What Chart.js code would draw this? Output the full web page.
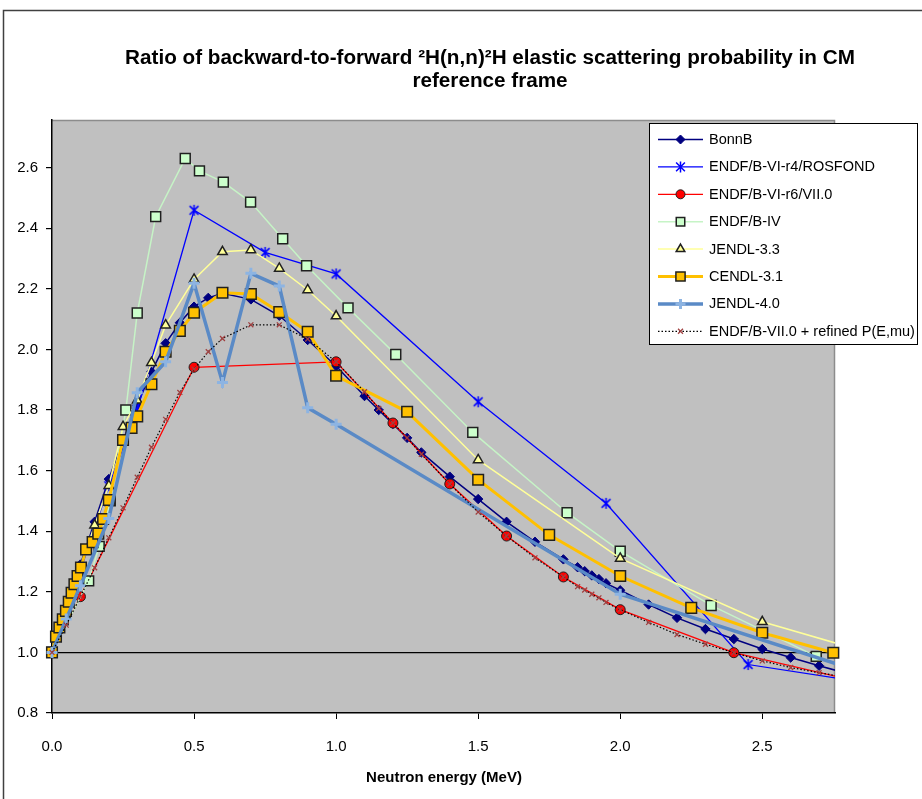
<!DOCTYPE html>
<html><head><meta charset="utf-8">
<script src="https://cdn.jsdelivr.net/npm/chart.js@4.4.1/dist/chart.umd.min.js"></script>
<style>
html,body{margin:0;padding:0;background:#fff;}
#wrap{position:relative;width:922px;height:799px;overflow:hidden;}
#c{position:absolute;left:0;top:0;}
#title{position:absolute;left:90px;width:800px;top:45px;text-align:center;font:bold 20.7px "Liberation Sans",Arial,sans-serif;line-height:23px;color:#000;}
#xtitle{position:absolute;left:244px;width:400px;top:768px;text-align:center;font:bold 15px "Liberation Sans",Arial,sans-serif;color:#000;}
</style></head>
<body><div id="wrap"><canvas id="c" width="922" height="799"></canvas>
<div id="title">Ratio of backward-to-forward ²H(n,n)²H elastic scattering probability in CM<br>reference frame</div>
<div id="xtitle">Neutron energy (MeV)</div></div>
<script>
// ---- data ----
const seriesNames = ['BonnB','ENDF/B-VI-r4/ROSFOND','ENDF/B-VI-r6/VII.0','ENDF/B-IV','JENDL-3.3','CENDL-3.1','JENDL-4.0','ENDF/B-VII.0 + refined P(E,mu)'];
const xTicks = [0.0, 0.5, 1.0, 1.5, 2.0, 2.5];
const yTicks = [0.8, 1.0, 1.2, 1.4, 1.6, 1.8, 2.0, 2.2, 2.4, 2.6];

const bonnX = [0,0.05,0.1,0.15,0.2,0.25,0.3,0.35,0.4,0.45,0.5,0.55,0.6,0.7,0.8,0.9,1.0,1.1,1.15,1.2,1.25,1.3,1.4,1.5,1.6,1.7,1.8,1.85,1.875,1.9,1.925,1.95,2.0,2.1,2.2,2.3,2.4,2.5,2.6,2.7,2.8];
const bonnY = [1.0,1.14,1.29,1.431,1.572,1.70,1.816,1.926,2.02,2.088,2.141,2.17,2.185,2.165,2.111,2.031,1.945,1.846,1.80,1.754,1.708,1.66,1.58,1.506,1.431,1.365,1.307,1.281,1.268,1.254,1.242,1.228,1.205,1.158,1.114,1.077,1.044,1.011,0.983,0.956,0.930];

const r4X = [0,0.1,0.2,0.3,0.5,0.75,1.0,1.5,1.95,2.45,3.0];
const r4Y = [1.0,1.27,1.55,1.80,2.459,2.32,2.249,1.827,1.492,0.96,0.881];

const r6X = [0,0.1,0.5,1.0,1.2,1.4,1.6,1.8,2.0,2.4,3.0];
const r6Y = [1.0,1.184,1.941,1.959,1.757,1.556,1.384,1.249,1.141,0.999,0.869];

const b4X = [0,0.129,0.166,0.205,0.26,0.30,0.365,0.469,0.519,0.603,0.699,0.812,0.896,1.042,1.21,1.481,1.813,2.0,2.32,2.69];
const b4Y = [1.0,1.236,1.35,1.50,1.80,2.12,2.438,2.63,2.589,2.552,2.486,2.365,2.276,2.137,1.983,1.726,1.461,1.334,1.155,0.987];

const j33X = [0,0.05,0.1,0.15,0.2,0.25,0.3,0.35,0.4,0.5,0.6,0.7,0.8,0.9,1.0,1.5,2.0,2.5,3.0];
const j33Y = [1.0,1.13,1.28,1.42,1.55,1.745,1.832,1.956,2.08,2.231,2.322,2.328,2.267,2.196,2.11,1.635,1.31,1.101,0.965];

const cenX = [0,0.014,0.026,0.038,0.049,0.059,0.069,0.079,0.09,0.102,0.12,0.143,0.163,0.18,0.2,0.25,0.28,0.3,0.35,0.4,0.45,0.5,0.6,0.7,0.8,0.9,1.0,1.25,1.5,1.75,2.0,2.25,2.5,2.75];
const cenY = [1.0,1.052,1.082,1.109,1.137,1.167,1.197,1.225,1.252,1.28,1.34,1.364,1.392,1.44,1.503,1.701,1.741,1.779,1.885,1.992,2.061,2.121,2.187,2.183,2.123,2.058,1.913,1.794,1.570,1.388,1.252,1.147,1.065,0.999];

const j40X = [0,0.05,0.1,0.2,0.3,0.4,0.5,0.6,0.7,0.8,0.9,1.0,2.0,3.0];
const j40Y = [1.0,1.11,1.22,1.442,1.857,1.959,2.218,1.891,2.251,2.209,1.807,1.753,1.192,0.89];

const refX = [0,0.05,0.1,0.15,0.2,0.25,0.3,0.35,0.4,0.45,0.5,0.55,0.6,0.7,0.8,0.9,1.0,1.1,1.15,1.2,1.25,1.3,1.4,1.5,1.6,1.7,1.8,1.85,1.875,1.9,1.925,1.95,2.0,2.1,2.2,2.3,2.4,2.5,2.6,2.7,2.8];
const refY = [1.0,1.09,1.184,1.279,1.378,1.477,1.578,1.677,1.769,1.858,1.935,1.992,2.036,2.081,2.081,2.034,1.959,1.86,1.805,1.757,1.708,1.654,1.556,1.463,1.384,1.312,1.249,1.217,1.206,1.192,1.18,1.165,1.141,1.099,1.059,1.027,0.999,0.972,0.950,0.933,0.917];

// ---- build ----
function pts(xs, ys){ return xs.map((x,i)=>({x:x, y:ys[i]})); }
const FONT = '"Liberation Sans", Arial, sans-serif';
const clipIn = {left:8, top:8, right:8, bottom:8};
const clipOut = {left:8, top:8, right:0, bottom:8};

function drawMarker(ctx, style, x, y, r, fill, stroke, bw){
  ctx.save(); ctx.fillStyle=fill; ctx.strokeStyle=stroke; ctx.lineWidth=bw; ctx.setLineDash([]); ctx.beginPath();
  const d = r*Math.SQRT1_2;
  switch(style){
    case 'circle': ctx.arc(x,y,r,0,Math.PI*2); ctx.fill(); ctx.stroke(); break;
    case 'rect': ctx.rect(x-d,y-d,2*d,2*d); ctx.fill(); ctx.stroke(); break;
    case 'rectRot': ctx.moveTo(x-r,y); ctx.lineTo(x,y-r); ctx.lineTo(x+r,y); ctx.lineTo(x,y+r); ctx.closePath(); ctx.fill(); ctx.stroke(); break;
    case 'triangle': for(let k=0;k<3;k++){const a=k*2*Math.PI/3; const px=x+Math.sin(a)*r, py=y-Math.cos(a)*r; if(k) ctx.lineTo(px,py); else ctx.moveTo(px,py);} ctx.closePath(); ctx.fill(); ctx.stroke(); break;
    case 'cross': ctx.moveTo(x,y-r); ctx.lineTo(x,y+r); ctx.moveTo(x-r,y); ctx.lineTo(x+r,y); ctx.stroke(); break;
    case 'crossRot': ctx.moveTo(x-d,y-d); ctx.lineTo(x+d,y+d); ctx.moveTo(x-d,y+d); ctx.lineTo(x+d,y-d); ctx.stroke(); break;
    case 'asterisk': {const e=r*0.8; ctx.moveTo(x,y-r); ctx.lineTo(x,y+r); ctx.moveTo(x-e,y-e); ctx.lineTo(x+e,y+e); ctx.moveTo(x-e,y+e); ctx.lineTo(x+e,y-e); ctx.stroke(); break;}
  }
  ctx.restore();
}

// asterisk marker (X with vertical bar) as an image point style
const astCanvas = document.createElement('canvas');
astCanvas.width = 13; astCanvas.height = 13;
drawMarker(astCanvas.getContext('2d'), 'asterisk', 6.5, 6.5, 5.5, '#0000FF', '#0000FF', 1.5);

const datasets = [
 {label:seriesNames[0], data:pts(bonnX,bonnY), borderColor:'#000080', borderWidth:1.5, pointStyle:'rectRot', pointRadius:4.7, pointBackgroundColor:'#000080', pointBorderColor:'#000080', pointBorderWidth:1, legR:4.5, clip:clipOut},
 {label:seriesNames[1], data:pts(r4X,r4Y), borderColor:'#0000FF', borderWidth:1.3, pointStyle:astCanvas, legStyle:'asterisk', pointRadius:5.5, pointBackgroundColor:'#0000FF', pointBorderColor:'#0000FF', pointBorderWidth:1.5, legR:5.5, clip:clipOut},
 {label:seriesNames[2], data:pts(r6X,r6Y), borderColor:'#FF0000', borderWidth:1.3, pointStyle:'circle', pointRadius:5, pointBackgroundColor:'#FF0000', pointBorderColor:'#202020', pointBorderWidth:1, legR:4.5, clip:clipOut},
 {label:seriesNames[3], data:pts(b4X,b4Y), borderColor:'#C6F4C6', borderWidth:1.5, pointStyle:'rect', pointRadius:7, pointBackgroundColor:'#CCFFCC', pointBorderColor:'#202020', pointBorderWidth:1.5, legR:6, clip:clipIn},
 {label:seriesNames[4], data:pts(j33X,j33Y), borderColor:'#FFFF99', borderWidth:1.5, pointStyle:'triangle', pointRadius:5.5, pointBackgroundColor:'#FFFF99', pointBorderColor:'#202020', pointBorderWidth:1.5, legR:5, clip:clipOut},
 {label:seriesNames[5], data:pts(cenX,cenY), borderColor:'#FFC000', borderWidth:3, pointStyle:'rect', pointRadius:7.5, pointBackgroundColor:'#FFC000', pointBorderColor:'#202020', pointBorderWidth:1.5, legR:6.5, clip:clipIn},
 {label:seriesNames[6], data:pts(j40X,j40Y), borderColor:'#5A8AC6', borderWidth:3.5, pointStyle:'cross', pointRadius:5.5, pointBackgroundColor:'#8DB4E2', pointBorderColor:'#8DB4E2', pointBorderWidth:3, legR:5, clip:clipOut},
 {label:seriesNames[7], data:pts(refX,refY), borderColor:'#000000', borderWidth:1.2, borderDash:[1.5,2], pointStyle:'crossRot', pointRadius:3.5, pointBackgroundColor:'#A04040', pointBorderColor:'#A04040', pointBorderWidth:1.3, legR:3.5, clip:clipOut}
];
const N = datasets.length;
datasets.forEach((d,i)=>{ d.order = N-1-i; d.tension = 0; d.fill = false; d.pointHoverRadius = d.pointRadius; });

const bgPlugin = {id:'bg', beforeDraw(chart){
  const ctx=chart.ctx, a=chart.chartArea; ctx.save();
  ctx.strokeStyle='#404040'; ctx.lineWidth=1.5; ctx.beginPath(); ctx.moveTo(3.5,799); ctx.lineTo(3.5,10.5); ctx.lineTo(922,10.5); ctx.stroke();
  ctx.fillStyle='#C0C0C0'; ctx.fillRect(a.left,a.top,a.right-a.left,a.bottom-a.top);
  ctx.strokeStyle='#8C8C8C'; ctx.lineWidth=1.5; ctx.beginPath(); ctx.moveTo(a.left,a.top+0.5); ctx.lineTo(a.right-0.5,a.top+0.5); ctx.lineTo(a.right-0.5,a.bottom); ctx.stroke();
  ctx.restore();
}};

const legendPlugin = {id:'leg', afterDraw(chart){
  const ctx=chart.ctx; ctx.save();
  const bx=649.5, by=123.5, bw=268, bh=221;
  ctx.fillStyle='#fff'; ctx.fillRect(bx,by,bw,bh);
  ctx.strokeStyle='#000'; ctx.lineWidth=1; ctx.strokeRect(bx,by,bw,bh);
  ctx.font='14.5px '+FONT; ctx.textBaseline='middle'; ctx.textAlign='left';
  chart.data.datasets.forEach((ds,i)=>{
    const y = 139.5 + i*27.4;
    ctx.save(); ctx.strokeStyle=ds.borderColor; ctx.lineWidth=ds.borderWidth; ctx.setLineDash(ds.borderDash||[]);
    ctx.beginPath(); ctx.moveTo(658,y); ctx.lineTo(703,y); ctx.stroke(); ctx.restore();
    drawMarker(ctx, ds.legStyle||ds.pointStyle, 680.5, y, ds.legR, ds.pointBackgroundColor, ds.pointBorderColor, ds.pointBorderWidth);
    ctx.fillStyle='#000'; ctx.fillText(ds.label, 709, y+0.5);
  });
  ctx.restore();
}};

new Chart(document.getElementById('c'), {
  type:'line',
  data:{datasets:datasets},
  options:{
    responsive:false, animation:false, devicePixelRatio:1,
    layout:{padding:{top:120, right:87, left:0, bottom:0}},
    plugins:{legend:{display:false}, title:{display:false}, tooltip:{enabled:false}},
    elements:{line:{tension:0}},
    scales:{
      x:{type:'linear', min:0, max:2.756,
        afterFit(s){ s.height = 86; },
        afterBuildTicks(s){ s.ticks = xTicks.map(v=>({value:v})); },
        ticks:{callback:v=>Number(v).toFixed(1), color:'#000', font:{family:FONT, size:15}, padding:19, maxRotation:0, autoSkip:false},
        grid:{drawOnChartArea:false, color:'#000', tickColor:'#000', tickLength:6},
        border:{color:'#000', width:1.5}
      },
      y:{type:'linear', min:0.8, max:2.757,
        afterFit(s){ s.width = 52; },
        afterBuildTicks(s){ s.ticks = yTicks.map(v=>({value:v})); },
        ticks:{callback:v=>Number(v).toFixed(1), color:'#000', font:{family:FONT, size:15}, padding:8, autoSkip:false},
        grid:{color:c=>(c.tick && Math.abs(c.tick.value-1)<1e-9 ? '#000' : 'rgba(0,0,0,0)'), tickColor:'#000', tickLength:6, lineWidth:1.2},
        border:{color:'#000', width:1.5}
      }
    }
  },
  plugins:[bgPlugin, legendPlugin]
});
</script>
</body></html>
